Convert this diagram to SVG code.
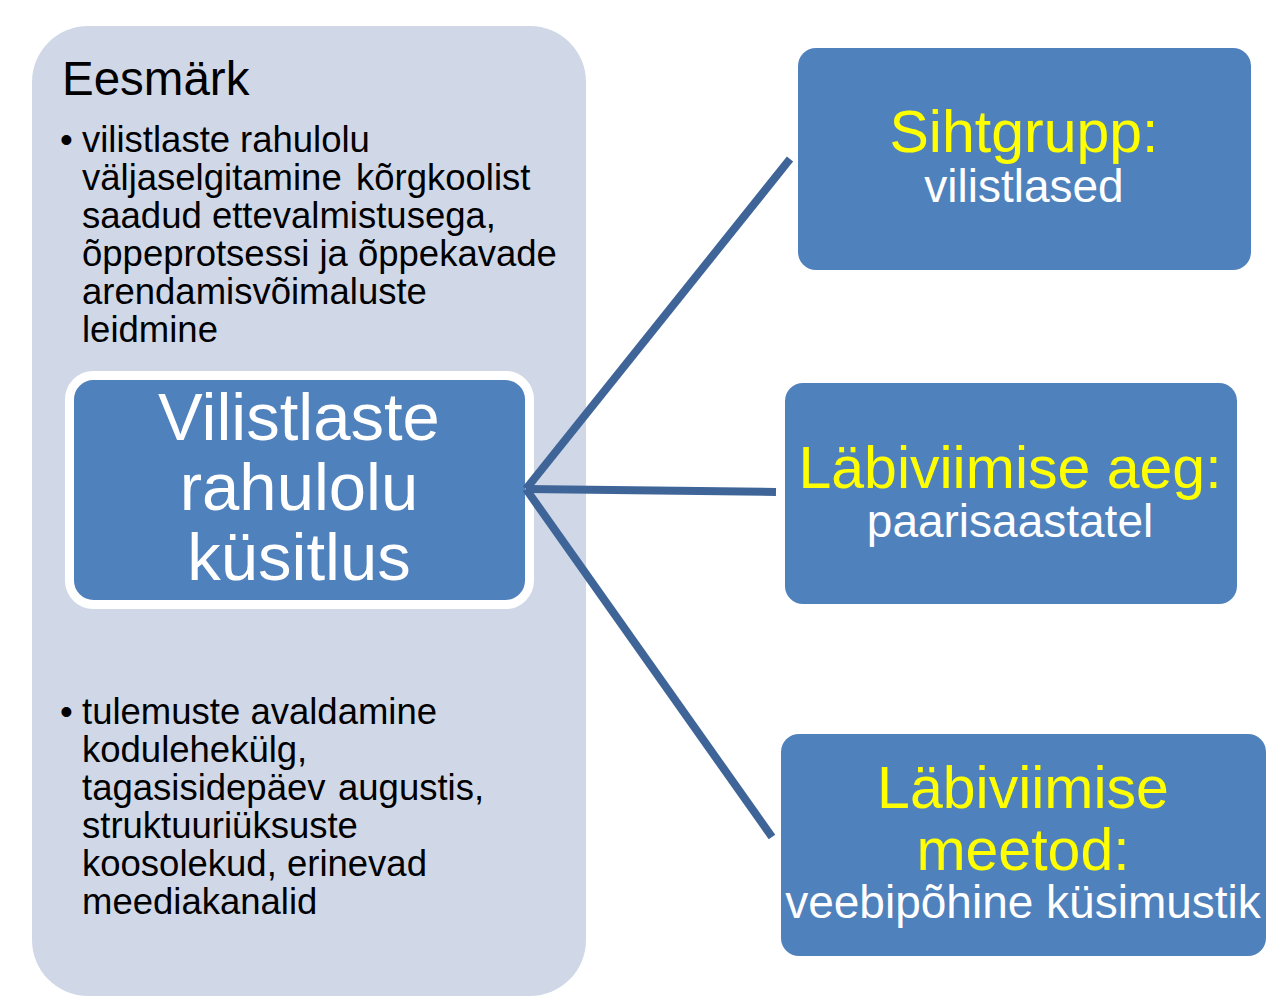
<svg xmlns="http://www.w3.org/2000/svg" width="1276" height="1004" viewBox="0 0 1276 1004">
<style>
  text { font-family: "Liberation Sans", Arial, sans-serif; }
  .panel { fill: #D0D8E8; }
  .box { fill: #4F81BD; }
  .body { font-size: 36.5px; fill: #000; }
  .title { font-size: 59px; fill: #FFFF00; text-anchor: middle; }
  .sub { font-size: 46px; fill: #FFFFFF; text-anchor: middle; }
  .center { font-size: 67px; fill: #FFFFFF; text-anchor: middle; }
  .conn { stroke: #3F6598; stroke-width: 8; fill: none; stroke-linecap: butt; }
</style>
<rect width="1276" height="1004" fill="#FFFFFF"/>
<g id="panel">
  <rect class="panel" x="32" y="26" width="554" height="970" rx="56" ry="56"/>
  <text x="62" y="95" font-size="47.5" fill="#000">Eesmärk</text>
  <g class="body">
    <text x="60" y="152">•</text>
    <text y="152"><tspan x="82">vilistlaste</tspan><tspan x="240">rahulolu</tspan></text>
    <text y="190"><tspan x="82">väljaselgitamine</tspan><tspan x="356">kõrgkoolist</tspan></text>
    <text x="82" y="228">saadud ettevalmistusega,</text>
    <text x="82" y="266">õppeprotsessi ja õppekavade</text>
    <text x="82" y="304">arendamisvõimaluste</text>
    <text x="82" y="342">leidmine</text>
    <text x="60" y="724">•</text>
    <text x="82" y="724">tulemuste avaldamine</text>
    <text x="82" y="762">kodulehekülg,</text>
    <text y="800"><tspan x="82">tagasisidepäev</tspan><tspan x="338">augustis,</tspan></text>
    <text x="82" y="838">struktuuriüksuste</text>
    <text x="82" y="876">koosolekud, erinevad</text>
    <text x="82" y="914">meediakanalid</text>
  </g>
</g>
<g id="center">
  <rect class="box" x="69.5" y="375.5" width="460" height="229" rx="24" ry="24" stroke="#FFFFFF" stroke-width="9"/>
  <text class="center" x="299" y="440">Vilistlaste</text>
  <text class="center" x="299" y="510">rahulolu</text>
  <text class="center" x="299" y="580">küsitlus</text>
</g>
<g id="sihtgrupp">
  <rect class="box" x="798" y="48" width="453" height="222" rx="18" ry="18"/>
  <text class="title" x="1024" y="152">Sihtgrupp:</text>
  <text class="sub" x="1024" y="202">vilistlased</text>
</g>
<g id="aeg">
  <rect class="box" x="785" y="383" width="452" height="221" rx="18" ry="18"/>
  <text class="title" x="1010" y="488">Läbiviimise aeg:</text>
  <text class="sub" x="1010" y="537">paarisaastatel</text>
</g>
<g id="meetod">
  <rect class="box" x="781" y="734" width="485" height="222" rx="18" ry="18"/>
  <text class="title" x="1023" y="808">Läbiviimise</text>
  <text class="title" x="1023" y="870">meetod:</text>
  <text class="sub" x="1023" y="918">veebipõhine küsimustik</text>
</g>
<g id="connectors">
  <line class="conn" x1="526" y1="489" x2="790" y2="159"/>
  <line class="conn" x1="526" y1="489" x2="776" y2="492"/>
  <line class="conn" x1="526" y1="489" x2="772" y2="837"/>
</g>
</svg>
